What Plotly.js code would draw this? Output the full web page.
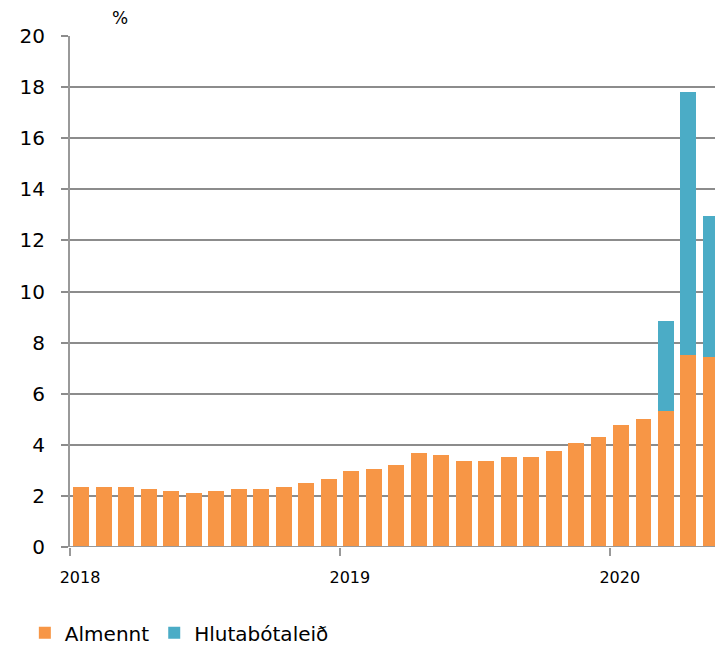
<!DOCTYPE html>
<html>
<head>
<meta charset="utf-8">
<script src="https://cdn.plot.ly/plotly-3.0.1.min.js"></script>
<style>html,body{margin:0;padding:0;background:#fff;}#chart{width:715px;height:645px;}</style>
</head>
<body>
<div id="chart"></div>
<script>
// Monthly, Jan 2018 – May 2020
const months = [
  "2018-01","2018-02","2018-03","2018-04","2018-05","2018-06","2018-07","2018-08","2018-09","2018-10","2018-11","2018-12",
  "2019-01","2019-02","2019-03","2019-04","2019-05","2019-06","2019-07","2019-08","2019-09","2019-10","2019-11","2019-12",
  "2020-01","2020-02","2020-03","2020-04","2020-05"
];
const almennt = [2.35,2.35,2.35,2.27,2.19,2.11,2.19,2.27,2.27,2.35,2.5,2.66,
                 2.97,3.05,3.21,3.68,3.6,3.36,3.36,3.52,3.52,3.75,4.07,4.3,
                 4.77,5.0,5.32,7.51,7.43];
const hlutabotaleid = [null,null,null,null,null,null,null,null,null,null,null,null,
                       null,null,null,null,null,null,null,null,null,null,null,null,
                       null,null,3.51,10.28,5.54];
const yearTickPos = [-0.5, 11.5, 23.5];
const yearTickText = ["2018","2019","2020"];
const seriesNames = ["Almennt","Hlutabótaleið"];

const idx = months.map((m,i)=>i);
const FONT = "DejaVu Sans, sans-serif";

const traces = [
  {type:"bar", x:idx, y:almennt, name:seriesNames[0], marker:{color:"#F79646"}, hovertext:months},
  {type:"bar", x:idx, y:hlutabotaleid, name:seriesNames[1], marker:{color:"#4BACC6"}, hovertext:months}
];

const layout = {
  width:715, height:645,
  margin:{l:70, r:0, t:36, b:98, autoexpand:false},
  paper_bgcolor:"#fff", plot_bgcolor:"#fff",
  barmode:"stack", bargap:0.29,
  showlegend:true,
  legend:{orientation:"h", x:-0.07, xanchor:"left", y:-0.168, yanchor:"middle",
          font:{family:FONT, size:20, color:"#000"}, traceorder:"normal"},
  xaxis:{range:[-0.5, 28.18], tickmode:"array", tickvals:yearTickPos, ticktext:yearTickText,
         showgrid:false, zeroline:false, showline:false,
         ticks:"outside", ticklen:8, tickwidth:2, tickcolor:"#999",
         ticklabelshift:10, ticklabelstandoff:8,
         tickfont:{family:FONT, size:16, color:"#000"}},
  yaxis:{range:[0,20], dtick:2, tick0:0, showgrid:true, gridcolor:"#8c8c8c", gridwidth:2,
         zeroline:false, showline:true, linecolor:"#999", linewidth:2,
         ticks:"outside", ticklen:7, tickwidth:2, tickcolor:"#8c8c8c",
         ticklabelstandoff:12,
         tickfont:{family:FONT, size:20, color:"#000"}},
  shapes:[{type:"line", xref:"paper", yref:"y", x0:0, x1:1, y0:0, y1:0, line:{color:"#999", width:2}}],
  annotations:[{text:"%", xref:"paper", yref:"paper", x:(120-70)/645, y:1+(36-18)/511,
                xanchor:"center", yanchor:"middle", showarrow:false,
                font:{family:FONT, size:17, color:"#000"}}]
};

Plotly.newPlot("chart", traces, layout, {displayModeBar:false, staticPlot:true});
</script>
</body>
</html>
